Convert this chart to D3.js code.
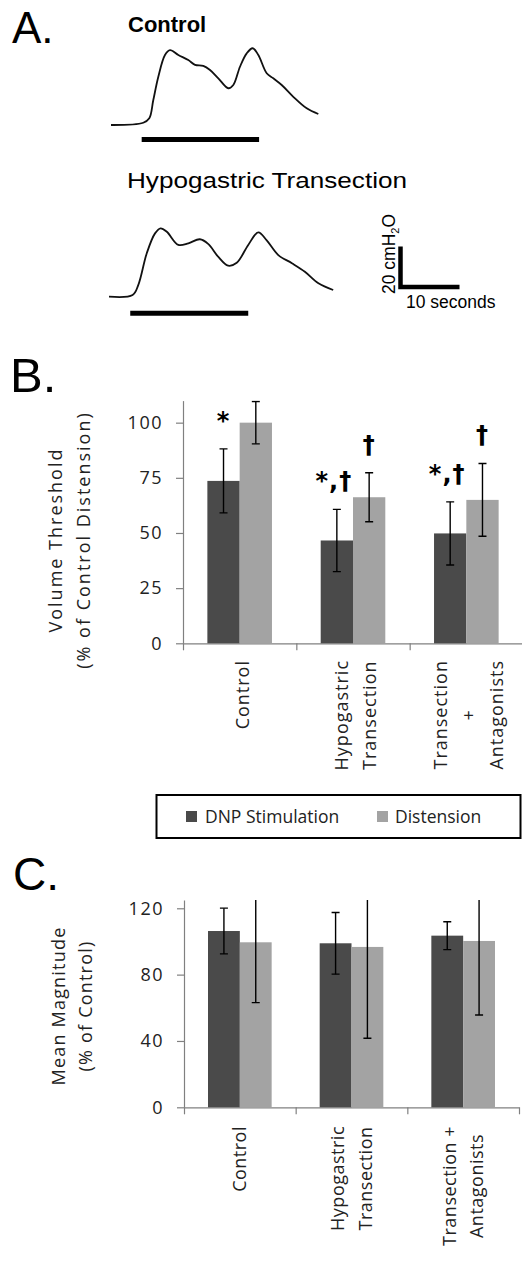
<!DOCTYPE html>
<html>
<head>
<meta charset="utf-8">
<script src="https://cdn.jsdelivr.net/npm/d3@7"></script>
<style>
  body { margin: 0; background: #fff; }
  svg { display: block; }
  .axis path, .axis line { stroke: #808080; stroke-width: 1.2; }
  .axis text { font-family: "Open Sans"; font-size: 18px; fill: #222; letter-spacing: 1.5px; }
</style>
</head>
<body>
<div id="chart"></div>
<script>
// ---- Panel A: pressure traces (time in s, pressure in cmH2O above baseline)
var ctrlTime     = [0, 5.47, 6.49, 7.17, 8.02, 9.15, 10.0, 11.41, 13.1, 14.24, 15.64, 16.78, 18.19, 19.88, 20.73, 21.86, 23.0, 24.02, 24.97, 26.39, 27.51, 28.93, 30.9, 33.17, 35.14];
var ctrlPressure = [0, 1.1, 3.3, 12.3, 23.8, 34.5, 36.9, 34.5, 32.0, 29.6, 29.1, 27.1, 23.0, 18.1, 19.7, 28.7, 35.3, 37.8, 34.5, 25.5, 23.0, 19.7, 13.9, 8.2, 5.4];
var hypoTime     = [0, 4.0, 4.97, 6.4, 7.8, 8.75, 9.8, 11.75, 13.45, 15.4, 16.8, 18.5, 20.2, 21.65, 23.6, 25.3, 26.7, 28.7, 31.0, 33.2, 35.5, 38.0];
var hypoPressure = [0, 0.8, 5.8, 21.4, 31.2, 33.7, 32.0, 25.5, 26.3, 28.3, 26.0, 19.7, 15.3, 16.7, 25.5, 31.7, 27.9, 20.5, 16.5, 12.3, 6.6, 3.3];
var ctrlStim = [5.2, 25.1];   // stimulation on/off (s)
var hypoStim = [3.6, 23.6];
var scaleBarSeconds = 10;
var scaleBarPressure = 20;

// ---- Panels B and C
var seriesNames = ["DNP Stimulation", "Distension"];
var categoriesB = [["Control"], ["Hypogastric", "Transection"], ["Transection", "+", "Antagonists"]];
var categoriesC = [["Control"], ["Hypogastric", "Transection"], ["Transection +", "Antagonists"]];

var thresholdDNP     = [73.6, 46.6, 49.8];
var thresholdDNPErr  = [14.5, 14.1, 14.3];
var thresholdDist    = [100, 66.2, 65.0];
var thresholdDistErr = [9.6, 11.1, 16.5];
var thresholdSig     = [["*", ""], ["*,†", "†"], ["*,†", "†"]];
var ticksB = [0, 25, 50, 75, 100];

var magnitudeDNP     = [106.3, 98.9, 103.5];
var magnitudeDNPErr  = [13.8, 18.6, 8.4];
var magnitudeDist    = [99.5, 96.7, 100.3];
var magnitudeDistErr = [36.4, 55.1, 44.6];
var ticksC = [0, 40, 80, 120];

var colors = ["#4a4a4a", "#a3a3a3"];

var svg = d3.select("#chart").append("svg")
  .attr("width", 522)
  .attr("height", 1276);

// panel letters
svg.append("text").attr("x", 12).attr("y", 43).text("A.")
  .style("font-family", "Liberation Sans, Arial").style("font-size", "44px");
svg.append("text").attr("x", 10).attr("y", 392).text("B.")
  .style("font-family", "Liberation Sans, Arial").style("font-size", "49px");
svg.append("text").attr("x", 13).attr("y", 890).text("C.")
  .style("font-family", "Liberation Sans, Arial").style("font-size", "46px");

// ================= Panel A =================
var tScale = d3.scaleLinear().domain([0, 10]).range([0, 59]);
var pScale = d3.scaleLinear().domain([0, 20]).range([0, -40.6]);

var traceLine = d3.line()
  .x(d => tScale(d[0]))
  .y(d => pScale(d[1]))
  .curve(d3.curveCatmullRom.alpha(0.5));

var traces = [
  { time: ctrlTime, pressure: ctrlPressure, stim: ctrlStim, ox: 111, oy: 125, barDy: 14.5 },
  { time: hypoTime, pressure: hypoPressure, stim: hypoStim, ox: 109, oy: 296.7, barDy: 16.6 }
];

traces.forEach(function(tr) {
  var g = svg.append("g").attr("transform", `translate(${tr.ox}, ${tr.oy})`);
  g.append("path")
    .datum(tr.time.map((t, i) => [t, tr.pressure[i]]))
    .attr("d", traceLine)
    .attr("fill", "none")
    .attr("stroke", "#111")
    .attr("stroke-width", 1.8);
  g.append("line")
    .attr("x1", tScale(tr.stim[0])).attr("x2", tScale(tr.stim[1]))
    .attr("y1", tr.barDy).attr("y2", tr.barDy)
    .attr("stroke", "#000").attr("stroke-width", 5);
});

svg.append("text").attr("x", 128).attr("y", 32).text("Control")
  .style("font-family", "Liberation Sans, Arial").style("font-weight", "bold").style("font-size", "22px");
svg.append("text").attr("x", 127).attr("y", 188).text("Hypogastric Transection")
  .attr("textLength", 280).attr("lengthAdjust", "spacingAndGlyphs")
  .style("font-family", "Liberation Sans, Arial").style("font-size", "22px");

// scale bar
var sb = svg.append("g").attr("transform", "translate(400.5, 287)");
sb.append("path")
  .attr("d", `M0,${pScale(scaleBarPressure)} L0,0 L${tScale(scaleBarSeconds)},0`)
  .attr("fill", "none").attr("stroke", "#000").attr("stroke-width", 4.5)
  .attr("stroke-linejoin", "miter");
var vlab = svg.append("text")
  .attr("transform", "translate(395, 254) rotate(-90)")
  .attr("text-anchor", "middle")
  .style("font-family", "Liberation Sans, Arial").style("font-size", "17.5px");
vlab.append("tspan").text("20 cmH");
vlab.append("tspan").text("2").attr("dy", 4).style("font-size", "11px");
vlab.append("tspan").text("O").attr("dy", -4);
svg.append("text").attr("x", 406).attr("y", 308).text("10 seconds")
  .style("font-family", "Liberation Sans, Arial").style("font-size", "17.5px");

// ================= Bar panels =================
function barPanel(cfg) {
  var g = svg.append("g");
  var n = cfg.cats.length;

  var x = d3.scaleBand().domain(d3.range(n)).range([cfg.x0, cfg.x1]);
  var xs = d3.scaleBand().domain(d3.range(seriesNames.length))
    .range([x.bandwidth() * 0.215, x.bandwidth() * 0.785]);
  var y = d3.scaleLinear().domain([0, cfg.max]).range([cfg.y0, cfg.yTop]);

  // axes
  g.append("g").attr("class", "axis")
    .attr("transform", `translate(${cfg.x0}, 0)`)
    .call(d3.axisLeft(y).tickValues(cfg.ticks).tickSize(7).tickPadding(13).tickSizeOuter(0));

  var xl = d3.scaleLinear().domain([0, n]).range([cfg.x0, cfg.x1]);
  g.append("g").attr("class", "axis")
    .attr("transform", `translate(0, ${cfg.y0})`)
    .call(d3.axisBottom(xl).tickValues(d3.range(n + 1)).tickSize(7).tickFormat("").tickSizeOuter(0));

  var rows = cfg.cats.map((c, i) => ({
    i: i,
    vals: [
      { s: 0, v: cfg.dnp[i], e: cfg.dnpErr[i], sig: cfg.sig ? cfg.sig[i][0] : "" },
      { s: 1, v: cfg.dist[i], e: cfg.distErr[i], sig: cfg.sig ? cfg.sig[i][1] : "" }
    ]
  }));

  var groups = g.selectAll(".grp")
    .data(rows)
    .enter()
    .append("g")
    .attr("transform", d => `translate(${x(d.i)}, 0)`);

  groups.selectAll("rect")
    .data(d => d.vals)
    .enter()
    .append("rect")
    .attr("x", d => xs(d.s))
    .attr("width", xs.bandwidth())
    .attr("y", d => y(d.v))
    .attr("height", d => y(0) - y(d.v))
    .attr("fill", d => colors[d.s]);

  // error bars, clipped at the axis top
  var clipId = "clip" + cfg.id;
  svg.append("clipPath").attr("id", clipId)
    .append("rect")
    .attr("x", cfg.x0).attr("y", cfg.yTop)
    .attr("width", cfg.x1 - cfg.x0).attr("height", cfg.y0 - cfg.yTop);

  var errG = g.append("g").attr("clip-path", `url(#${clipId})`);
  rows.forEach(function(r) {
    r.vals.forEach(function(d) {
      var cx = x(r.i) + xs(d.s) + xs.bandwidth() / 2;
      errG.append("line")
        .attr("x1", cx).attr("x2", cx)
        .attr("y1", y(d.v + d.e)).attr("y2", y(d.v - d.e))
        .attr("stroke", "#000").attr("stroke-width", 1.4);
      [d.v + d.e, d.v - d.e].forEach(function(v) {
        errG.append("line")
          .attr("x1", cx - 4).attr("x2", cx + 4)
          .attr("y1", y(v)).attr("y2", y(v))
          .attr("stroke", "#000").attr("stroke-width", 1.4);
      });
      if (d.sig) {
        g.append("text")
          .attr("x", cx - (d.sig.length > 1 ? 3 : 0))
          .attr("y", y(d.v + d.e) - 20)
          .attr("text-anchor", "middle")
          .text(d.sig)
          .style("font-family", "DejaVu Sans")
          .style("font-weight", "bold")
          .style("font-size", "24px")
          .style("letter-spacing", "1px");
      }
    });
  });

  // category labels (rotated, lines centred within each block)
  rows.forEach(function(r) {
    var lines = cfg.cats[r.i];
    var cx = x(r.i) + x.bandwidth() / 2 + cfg.labelDx;
    var lg = g.append("g").attr("transform", `translate(${cx}, ${cfg.labelTop}) rotate(-90)`);
    var texts = lines.map(function(t, k) {
      return lg.append("text")
        .attr("y", (k - (lines.length - 1) / 2) * cfg.lineGap)
        .attr("dy", "0.3em")
        .attr("text-anchor", "middle")
        .text(t)
        .style("font-family", "Open Sans")
        .style("font-size", "18px")
        .style("letter-spacing", cfg.labelSpacing)
        .style("fill", "#222");
    });
    var blockLen = d3.max(texts, t => t.node().getComputedTextLength());
    texts.forEach(t => t.attr("x", -blockLen / 2));
  });

  // y axis title
  var yt = g.append("g").attr("transform", `translate(0, ${cfg.titleY}) rotate(-90)`);
  cfg.title.forEach(function(t, k) {
    yt.append("text")
      .attr("x", 0)
      .attr("y", cfg.titleX[k])
      .attr("text-anchor", "middle")
      .text(t)
      .style("font-family", "Open Sans")
      .style("font-size", "18px")
      .style("letter-spacing", cfg.titleSpacing)
      .style("fill", "#222");
  });
}

barPanel({
  id: "B", cats: categoriesB,
  dnp: thresholdDNP, dnpErr: thresholdDNPErr,
  dist: thresholdDist, distErr: thresholdDistErr,
  sig: thresholdSig, ticks: ticksB, max: 110,
  x0: 183, x1: 523, y0: 643.3, yTop: 400.6,
  labelTop: 660, labelDx: 3.5, lineGap: 28, labelSpacing: "1px",
  title: ["Volume Threshold", "(% of Control Distension)"], titleX: [62, 90], titleY: 540, titleSpacing: "2px"
});

barPanel({
  id: "C", cats: categoriesC,
  dnp: magnitudeDNP, dnpErr: magnitudeDNPErr,
  dist: magnitudeDist, distErr: magnitudeDistErr,
  sig: null, ticks: ticksC, max: 125,
  x0: 184, x1: 519, y0: 1107.3, yTop: 900,
  labelTop: 1126, labelDx: 1, lineGap: 27.5, labelSpacing: "0.5px",
  title: ["Mean Magnitude", "(% of Control)"], titleX: [65, 92], titleY: 1006, titleSpacing: "1.2px"
});

// legend
var legend = svg.append("g");
legend.append("rect")
  .attr("x", 156.5).attr("y", 795).attr("width", 364).attr("height", 43)
  .attr("fill", "#fff").attr("stroke", "#000").attr("stroke-width", 2);
var legendX = [[186, 205], [377, 395]];
seriesNames.forEach(function(s, i) {
  legend.append("rect")
    .attr("x", legendX[i][0]).attr("y", 811).attr("width", 11).attr("height", 11)
    .attr("fill", colors[i]);
  legend.append("text")
    .attr("x", legendX[i][1]).attr("y", 823)
    .text(s)
    .style("font-family", "Open Sans")
    .style("font-size", "17.5px")
    .style("fill", "#222");
});
</script>
</body>
</html>
